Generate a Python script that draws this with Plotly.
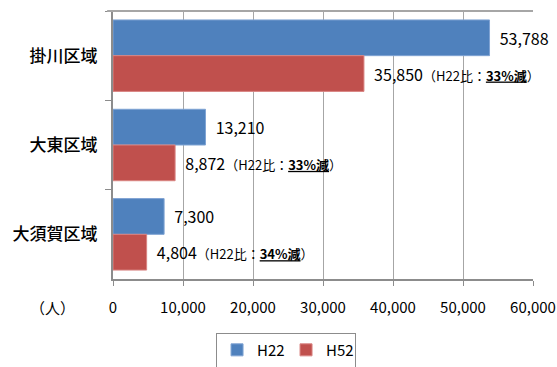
import plotly.graph_objects as go

# Population by district (people)
districts = ["掛川区域", "大東区域", "大須賀区域"]
h22_values = [53788, 13210, 7300]
h52_values = [35850, 8872, 4804]
series_names = ["H22", "H52"]
x_ticks = [0, 10000, 20000, 30000, 40000, 50000, 60000]

BLUE = "#4F81BD"
RED = "#C0504D"
FONT = "Noto Sans CJK JP"
GAP = "\u00a0\u00a0"

h22_text = [GAP + f"{v:,}" for v in h22_values]
h52_text = []
for old, new in zip(h22_values, h52_values):
    pct = round((1 - new / old) * 100)
    h52_text.append(
        GAP + f"{new:,}"
        + "<span style='font-size:13px'>（H22比：<b><u>"
        + f"{pct}%減"
        + "</u></b>）</span>"
    )

fig = go.Figure()
fig.add_trace(go.Bar(
    y=districts, x=h22_values, name=series_names[0], orientation="h",
    marker=dict(color=BLUE, line=dict(color="#7FA3D3", width=1)),
    text=h22_text, textposition="outside", cliponaxis=False,
    textfont=dict(family=FONT, size=16, color="#000000"),
))
fig.add_trace(go.Bar(
    y=districts, x=h52_values, name=series_names[1], orientation="h",
    marker=dict(color=RED, line=dict(color="#D98482", width=1)),
    text=h52_text, textposition="outside", cliponaxis=False,
    textfont=dict(family=FONT, size=16, color="#000000"),
))

fig.update_layout(
    width=557, height=367,
    margin=dict(l=113, r=24, t=11, b=88, autoexpand=False),
    paper_bgcolor="white", plot_bgcolor="white",
    barmode="group", bargap=0.2, bargroupgap=0,
    font=dict(family=FONT, color="#000000"),
    showlegend=True,
    legend=dict(
        orientation="h", x=0.412, xanchor="center", y=-0.2, yanchor="top",
        bordercolor="#8C8C8C", borderwidth=1, bgcolor="white",
        font=dict(family=FONT, size=15, color="#000000"),
        itemwidth=30, entrywidth=24, traceorder="normal",
    ),
    xaxis=dict(
        range=[0, 60000], tickvals=x_ticks,
        ticktext=[f"{v:,}" for v in x_ticks],
        showgrid=True, gridcolor="#A6A6A6", gridwidth=1,
        showline=True, linecolor="#8C8C8C", linewidth=2,
        ticks="outside", ticklen=5, tickcolor="#8C8C8C",
        zeroline=False,
        tickfont=dict(family=FONT, size=15, color="#000000"),
        ticklabelstandoff=9,
    ),
    yaxis=dict(
        autorange="reversed", type="category",
        showline=True, linecolor="#8C8C8C", linewidth=2,
        ticks="outside", ticklen=6, tickcolor="#8C8C8C",
        tickson="boundaries", showgrid=False,
        tickfont=dict(family=FONT, size=17, color="#000000", weight=500),
        ticklabelstandoff=10,
    ),
)

# top border of the plot area
fig.add_shape(type="line", xref="paper", yref="paper",
              x0=-0.014, x1=1, y0=1, y1=1,
              line=dict(color="#A6A6A6", width=2))

# unit label for the value axis
fig.add_annotation(text="（人）", xref="paper", yref="paper",
                   x=-0.143, y=-0.108, xanchor="center", yanchor="middle",
                   showarrow=False,
                   font=dict(family=FONT, size=15, color="#000000"))

fig.write_html("out.html")
